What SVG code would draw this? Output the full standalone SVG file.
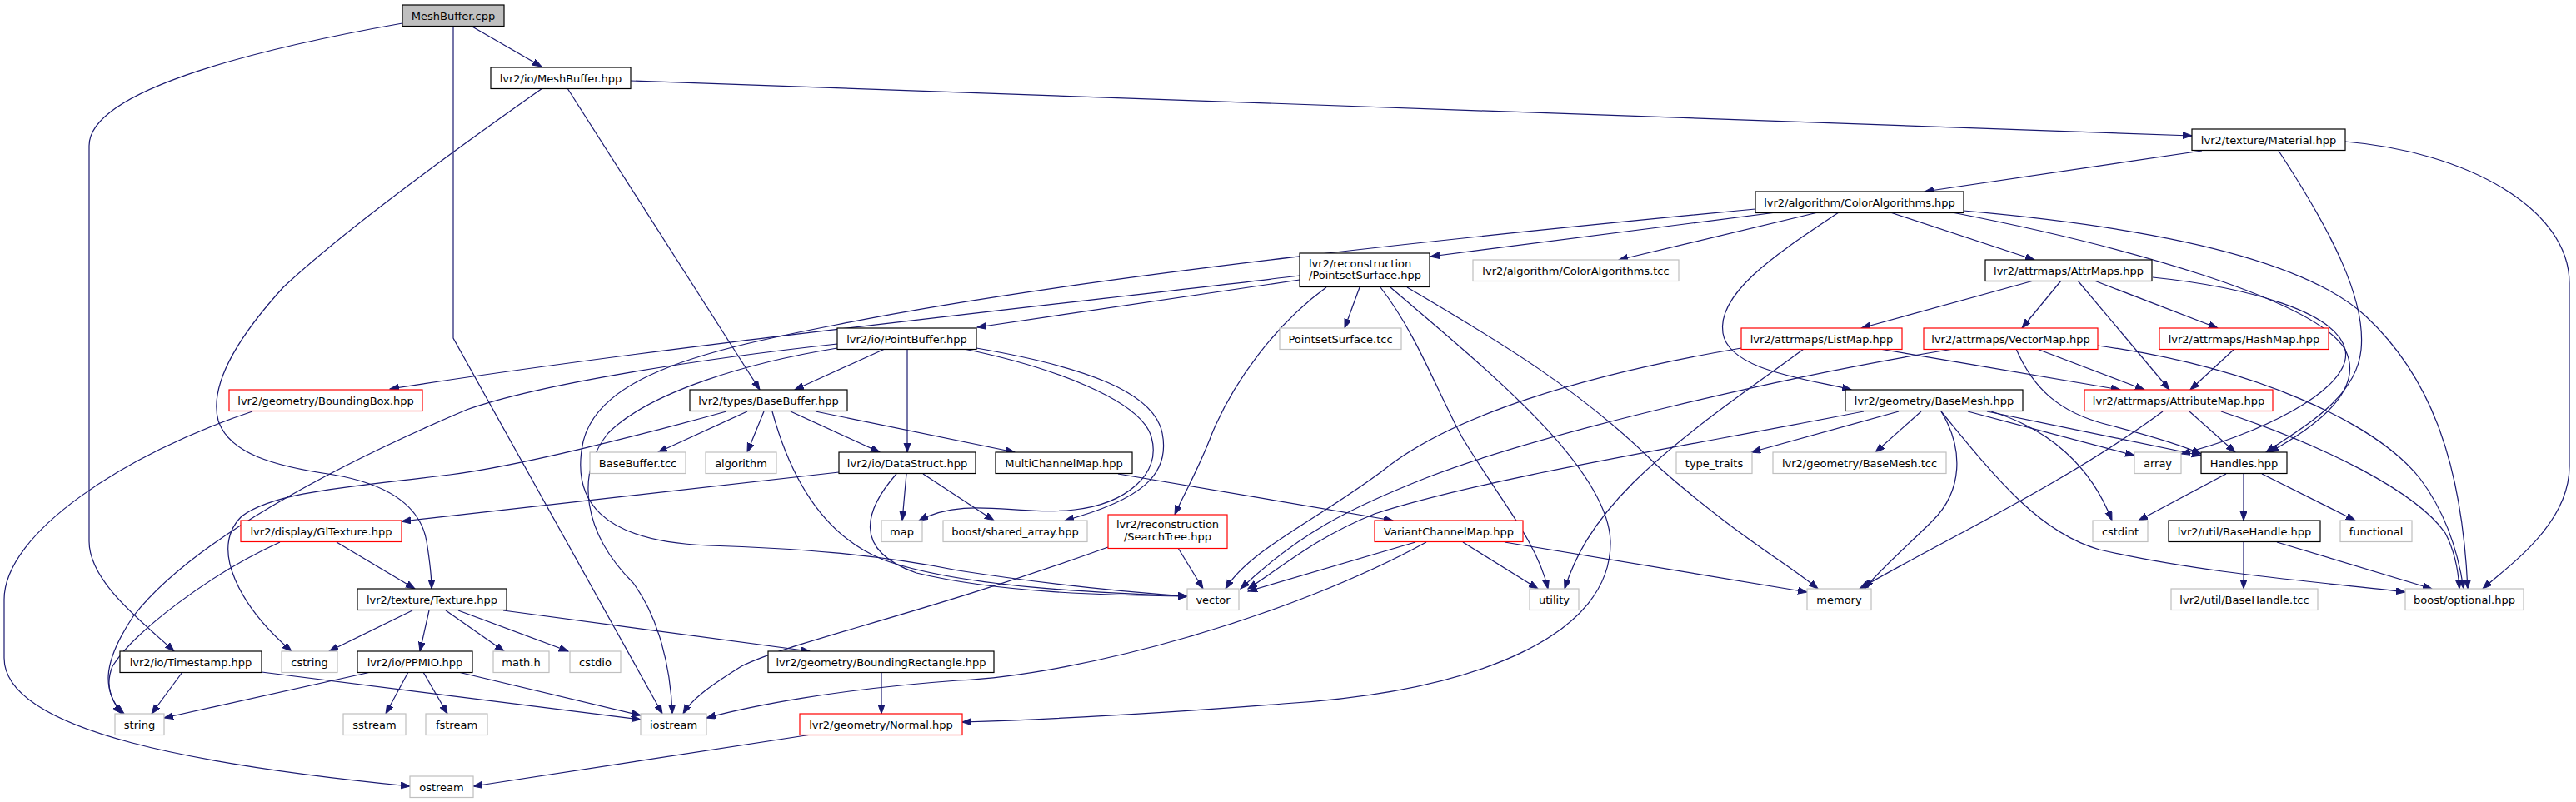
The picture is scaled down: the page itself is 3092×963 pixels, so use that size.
<svg xmlns="http://www.w3.org/2000/svg" width="3092" height="963" viewBox="0 0 3092 963">
<style>
.n rect{fill:#fff;stroke:#000;stroke-width:1.2}
.n.g rect{stroke:#bfbfbf}
.n.r rect{stroke:#ff0000}
.n.root rect{fill:#bfbfbf}
.n text{font-family:"DejaVu Sans","Liberation Sans",sans-serif;font-size:13px;fill:#000;text-anchor:middle}
.e path{fill:none;stroke:#191970;stroke-width:1.2;marker-end:url(#a)}
</style>
<defs>
<marker id="a" markerUnits="userSpaceOnUse" markerWidth="12" markerHeight="10" refX="11" refY="4" orient="auto">
<path d="M0,0 L11,4 L0,8 z" fill="#191970" stroke="#191970" stroke-width="1"/>
</marker>
</defs>
<rect width="3092" height="963" fill="#fff"/>
<g class="e" id="edges">
<path d="M565,31 L650,80"/>
<path d="M483,28 C330,55 107,105 107,175 L107,650 C107,700 175,750 209,782"/>
<path d="M544,31 L544,406 L795,857"/>
<path d="M651,106 C560,170 420,270 340,345 C290,400 250,460 262,505 C275,545 330,560 400,570 C470,582 505,610 512,650 C516,675 518,695 518,707"/>
<path d="M681,106 L912,468"/>
<path d="M757,97 L2631,163"/>
<path d="M2643,181 L2310,230"/>
<path d="M2735,181 C2800,280 2840,360 2834,420 C2828,480 2760,515 2720,543"/>
<path d="M2815,170 C2960,182 3084,250 3084,340 L3084,560 C3084,630 3010,680 2980,707"/>
<path d="M2132,255 L1717,308"/>
<path d="M2182,255 L1943,312"/>
<path d="M2207,255 C2140,300 2060,350 2068,400 C2075,445 2170,455 2222,468"/>
<path d="M2269,255 L2442,312"/>
<path d="M2357,253 C2550,270 2760,305 2840,380 C2920,455 2955,560 2962,707"/>
<path d="M2343,255 C2550,295 2780,360 2815,420 C2840,470 2775,515 2724,543"/>
<path d="M2584,333 C2700,345 2805,375 2815,420 C2825,470 2700,525 2618,545"/>
<path d="M2441,337 L2234,394"/>
<path d="M2474,337 L2427,394"/>
<path d="M2494,337 L2604,468"/>
<path d="M2514,337 L2662,394"/>
<path d="M2090,418 C1900,450 1740,500 1660,565 C1580,625 1500,660 1471,707"/>
<path d="M2165,419 C2110,460 2020,520 1960,580 C1910,630 1890,670 1878,707"/>
<path d="M2256,419 C2350,435 2470,455 2545,468"/>
<path d="M2445,419 L2574,468"/>
<path d="M2420,419 C2440,465 2470,495 2530,510 C2580,523 2620,535 2642,545"/>
<path d="M2518,415 C2700,440 2850,505 2905,575 C2935,615 2950,660 2957,707"/>
<path d="M2345,419 C2150,450 1850,520 1714,573 C1620,610 1560,640 1489,707"/>
<path d="M2682,419 L2629,468"/>
<path d="M2628,494 L2683,543"/>
<path d="M2666,494 C2790,535 2900,590 2935,640 C2948,665 2951,690 2952,707"/>
<path d="M2596,494 C2480,580 2330,650 2232,707"/>
<path d="M2330,494 C2358,540 2355,590 2320,625 C2290,655 2255,685 2238,707"/>
<path d="M2330,494 C2400,580 2450,640 2520,660 C2650,690 2800,700 2887,711"/>
<path d="M2362,494 L2562,547"/>
<path d="M2385,494 L2642,547"/>
<path d="M2390,494 C2460,515 2510,560 2535,625"/>
<path d="M2279,494 L2102,543"/>
<path d="M2306,494 L2251,543"/>
<path d="M2237,494 C2000,540 1780,575 1650,617 C1580,645 1540,680 1498,707"/>
<path d="M2672,569 L2567,625"/>
<path d="M2693,569 L2693,625"/>
<path d="M2715,569 L2827,625"/>
<path d="M2693,651 L2693,707"/>
<path d="M2733,651 L2919,707"/>
<path d="M1560,336 L1173,393"/>
<path d="M1560,331 C1250,368 800,415 468,467"/>
<path d="M1592,345 C1530,390 1480,460 1455,520 C1438,565 1420,595 1410,618"/>
<path d="M1632,345 L1614,394"/>
<path d="M1657,345 C1700,400 1725,470 1755,525 C1800,600 1845,650 1858,707"/>
<path d="M1669,345 C1780,440 1930,560 1933,650 C1935,760 1780,830 1540,845 C1400,856 1250,864 1155,867"/>
<path d="M1689,345 C1800,410 1900,470 1990,560 C2080,640 2150,680 2182,707"/>
<path d="M1062,419 L954,468"/>
<path d="M1089,419 L1089,543"/>
<path d="M1157,419 C1260,440 1370,480 1382,525 C1395,570 1350,605 1290,612 C1220,620 1160,595 1103,625"/>
<path d="M1172,418 C1300,440 1385,470 1395,520 C1405,570 1370,600 1278,625"/>
<path d="M1005,413 C850,430 650,460 560,492 C400,560 230,650 160,740 C120,800 125,830 146,857"/>
<path d="M1005,418 C900,435 780,470 730,520 C690,570 700,640 760,700 C790,740 805,800 807,857"/>
<path d="M2107,251 C1800,280 1300,330 1004,390 C850,420 720,450 700,530 C685,600 720,650 850,655 C950,658 1050,665 1150,685 C1280,705 1380,713 1425,716"/>
<path d="M897,494 L790,543"/>
<path d="M917,494 L897,543"/>
<path d="M949,494 L1056,543"/>
<path d="M979,494 L1218,543"/>
<path d="M927,494 C945,560 980,640 1060,672 C1150,705 1320,712 1425,716"/>
<path d="M872,494 C760,525 620,560 540,570 C420,585 330,590 290,620 C250,660 290,730 350,782"/>
<path d="M1088,569 L1083,625"/>
<path d="M1108,569 L1193,625"/>
<path d="M1076,569 C1040,610 1020,660 1100,688 C1200,712 1330,715 1425,716"/>
<path d="M1007,567 L482,626"/>
<path d="M1342,569 L1672,625"/>
<path d="M1414,658 L1444,707"/>
<path d="M1330,657 C1100,740 950,770 890,800 C850,825 830,840 820,857"/>
<path d="M1699,651 L1498,710"/>
<path d="M1712,651 C1550,740 1300,810 1150,817 C1000,828 900,848 848,862"/>
<path d="M1756,651 L1846,707"/>
<path d="M1806,651 L2169,711"/>
<path d="M303,494 C150,545 5,640 5,720 L5,790 C5,880 250,920 492,944"/>
<path d="M404,651 L498,707"/>
<path d="M336,651 C250,690 160,760 135,800 C125,825 135,845 149,857"/>
<path d="M495,733 L395,782"/>
<path d="M515,733 L504,782"/>
<path d="M535,733 L605,782"/>
<path d="M550,733 L682,782"/>
<path d="M604,733 L972,782"/>
<path d="M219,807 L182,857"/>
<path d="M314,807 L769,864"/>
<path d="M445,807 L197,862"/>
<path d="M490,807 L463,857"/>
<path d="M508,807 L537,857"/>
<path d="M550,807 L769,859"/>
<path d="M1058,807 L1058,857"/>
<path d="M974,882 L568,944"/>
</g>
<g id="n1" class="n root"><rect x="483" y="6" width="122" height="25.5"/><text x="544" y="23.5">MeshBuffer.cpp</text></g>
<g id="n2" class="n"><rect x="589" y="81" width="168" height="25.5"/><text x="673" y="98.5">lvr2/io/MeshBuffer.hpp</text></g>
<g id="n3" class="n"><rect x="2631" y="155" width="184" height="25.5"/><text x="2723" y="172.5">lvr2/texture/Material.hpp</text></g>
<g id="n4" class="n"><rect x="2107" y="230" width="250" height="25.5"/><text x="2232" y="247.5">lvr2/algorithm/ColorAlgorithms.hpp</text></g>
<g id="n5" class="n"><rect x="1560" y="304" width="156" height="40.5"/><text x="1571" y="320.5" style="text-anchor:start">lvr2/reconstruction</text><text x="1571" y="335" style="text-anchor:start">/PointsetSurface.hpp</text></g>
<g id="n6" class="n g"><rect x="1768" y="312" width="247" height="25.5"/><text x="1891.5" y="329.5">lvr2/algorithm/ColorAlgorithms.tcc</text></g>
<g id="n7" class="n"><rect x="2383" y="312" width="200" height="25.5"/><text x="2483" y="329.5">lvr2/attrmaps/AttrMaps.hpp</text></g>
<g id="n8" class="n"><rect x="1005" y="394" width="167" height="25.5"/><text x="1088.5" y="411.5">lvr2/io/PointBuffer.hpp</text></g>
<g id="n9" class="n g"><rect x="1536" y="394" width="146" height="25.5"/><text x="1609" y="411.5">PointsetSurface.tcc</text></g>
<g id="n10" class="n r"><rect x="2090" y="394" width="193" height="25.5"/><text x="2186.5" y="411.5">lvr2/attrmaps/ListMap.hpp</text></g>
<g id="n11" class="n r"><rect x="2309" y="394" width="209" height="25.5"/><text x="2413.5" y="411.5">lvr2/attrmaps/VectorMap.hpp</text></g>
<g id="n12" class="n r"><rect x="2592" y="394" width="203" height="25.5"/><text x="2693.5" y="411.5">lvr2/attrmaps/HashMap.hpp</text></g>
<g id="n13" class="n r"><rect x="275" y="468" width="232" height="25.5"/><text x="391" y="485.5">lvr2/geometry/BoundingBox.hpp</text></g>
<g id="n14" class="n"><rect x="828" y="468" width="189" height="25.5"/><text x="922.5" y="485.5">lvr2/types/BaseBuffer.hpp</text></g>
<g id="n15" class="n"><rect x="2215" y="468" width="213" height="25.5"/><text x="2321.5" y="485.5">lvr2/geometry/BaseMesh.hpp</text></g>
<g id="n16" class="n r"><rect x="2502" y="468" width="226" height="25.5"/><text x="2615" y="485.5">lvr2/attrmaps/AttributeMap.hpp</text></g>
<g id="n17" class="n g"><rect x="708" y="543" width="115" height="25.5"/><text x="765.5" y="560.5">BaseBuffer.tcc</text></g>
<g id="n18" class="n g"><rect x="847" y="543" width="85" height="25.5"/><text x="889.5" y="560.5">algorithm</text></g>
<g id="n19" class="n"><rect x="1007" y="543" width="164" height="25.5"/><text x="1089" y="560.5">lvr2/io/DataStruct.hpp</text></g>
<g id="n20" class="n"><rect x="1195" y="543" width="164" height="25.5"/><text x="1277" y="560.5">MultiChannelMap.hpp</text></g>
<g id="n21" class="n g"><rect x="2012" y="543" width="91" height="25.5"/><text x="2057.5" y="560.5">type_traits</text></g>
<g id="n22" class="n g"><rect x="2128" y="543" width="208" height="25.5"/><text x="2232" y="560.5">lvr2/geometry/BaseMesh.tcc</text></g>
<g id="n23" class="n g"><rect x="2562" y="543" width="56" height="25.5"/><text x="2590" y="560.5">array</text></g>
<g id="n24" class="n"><rect x="2642" y="543" width="103" height="25.5"/><text x="2693.5" y="560.5">Handles.hpp</text></g>
<g id="n25" class="n r"><rect x="289" y="625" width="193" height="25.5"/><text x="385.5" y="642.5">lvr2/display/GlTexture.hpp</text></g>
<g id="n26" class="n g"><rect x="1058" y="625" width="49" height="25.5"/><text x="1082.5" y="642.5">map</text></g>
<g id="n27" class="n g"><rect x="1132" y="625" width="173" height="25.5"/><text x="1218.5" y="642.5">boost/shared_array.hpp</text></g>
<g id="n28" class="n r"><rect x="1330" y="618" width="143" height="40.5"/><text x="1401.5" y="634">lvr2/reconstruction</text><text x="1401.5" y="648.5">/SearchTree.hpp</text></g>
<g id="n29" class="n r"><rect x="1650" y="625" width="178" height="25.5"/><text x="1739" y="642.5">VariantChannelMap.hpp</text></g>
<g id="n30" class="n g"><rect x="2512" y="625" width="66" height="25.5"/><text x="2545" y="642.5">cstdint</text></g>
<g id="n31" class="n"><rect x="2603" y="625" width="182" height="25.5"/><text x="2694" y="642.5">lvr2/util/BaseHandle.hpp</text></g>
<g id="n32" class="n g"><rect x="2809" y="625" width="86" height="25.5"/><text x="2852" y="642.5">functional</text></g>
<g id="n33" class="n"><rect x="429" y="707" width="179" height="25.5"/><text x="518.5" y="724.5">lvr2/texture/Texture.hpp</text></g>
<g id="n34" class="n g"><rect x="1425" y="707" width="62" height="25.5"/><text x="1456" y="724.5">vector</text></g>
<g id="n35" class="n g"><rect x="1836" y="707" width="59" height="25.5"/><text x="1865.5" y="724.5">utility</text></g>
<g id="n36" class="n g"><rect x="2169" y="707" width="77" height="25.5"/><text x="2207.5" y="724.5">memory</text></g>
<g id="n37" class="n g"><rect x="2606" y="707" width="176" height="25.5"/><text x="2694" y="724.5">lvr2/util/BaseHandle.tcc</text></g>
<g id="n38" class="n g"><rect x="2887" y="707" width="142" height="25.5"/><text x="2958" y="724.5">boost/optional.hpp</text></g>
<g id="n39" class="n"><rect x="144" y="782" width="170" height="25.5"/><text x="229" y="799.5">lvr2/io/Timestamp.hpp</text></g>
<g id="n40" class="n g"><rect x="338" y="782" width="67" height="25.5"/><text x="371.5" y="799.5">cstring</text></g>
<g id="n41" class="n"><rect x="429" y="782" width="138" height="25.5"/><text x="498" y="799.5">lvr2/io/PPMIO.hpp</text></g>
<g id="n42" class="n g"><rect x="592" y="782" width="67" height="25.5"/><text x="625.5" y="799.5">math.h</text></g>
<g id="n43" class="n g"><rect x="684" y="782" width="61" height="25.5"/><text x="714.5" y="799.5">cstdio</text></g>
<g id="n44" class="n"><rect x="922" y="782" width="271" height="25.5"/><text x="1057.5" y="799.5">lvr2/geometry/BoundingRectangle.hpp</text></g>
<g id="n45" class="n g"><rect x="138" y="857" width="59" height="25.5"/><text x="167.5" y="874.5">string</text></g>
<g id="n46" class="n g"><rect x="412" y="857" width="75" height="25.5"/><text x="449.5" y="874.5">sstream</text></g>
<g id="n47" class="n g"><rect x="511" y="857" width="74" height="25.5"/><text x="548" y="874.5">fstream</text></g>
<g id="n48" class="n g"><rect x="769" y="857" width="79" height="25.5"/><text x="808.5" y="874.5">iostream</text></g>
<g id="n49" class="n r"><rect x="960" y="857" width="195" height="25.5"/><text x="1057.5" y="874.5">lvr2/geometry/Normal.hpp</text></g>
<g id="n50" class="n g"><rect x="492" y="932" width="76" height="25.5"/><text x="530" y="949.5">ostream</text></g>
</svg>
